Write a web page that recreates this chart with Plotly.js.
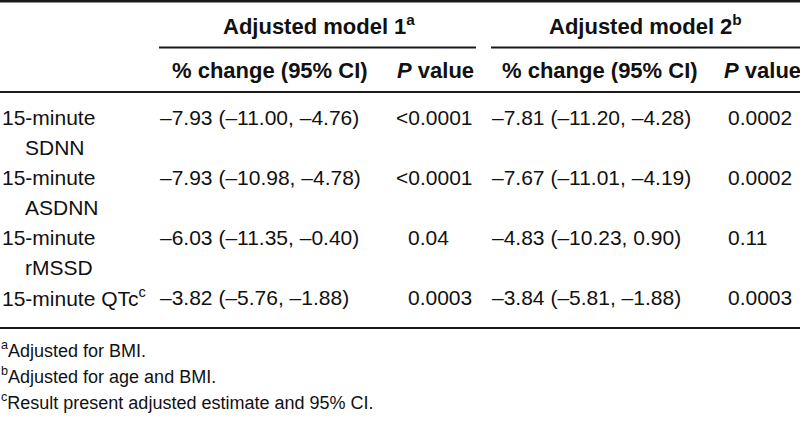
<!DOCTYPE html>
<html>
<head>
<meta charset="utf-8">
<script src="https://cdn.plot.ly/plotly-3.0.1.min.js"></script>
<style>
  html, body { margin: 0; padding: 0; background: #ffffff; }
  #chart { width: 800px; height: 424px; }
</style>
</head>
<body>
<div id="chart"></div>
<script>
// ---- Table content ----
const modelHeaders = ["Adjusted model 1<sup>a</sup>", "Adjusted model 2<sup>b</sup>"];
const columnHeaders = ["% change (95% CI)", "<i>P</i> value", "% change (95% CI)", "<i>P</i> value"];
const rowLabelLine1 = ["15-minute", "15-minute", "15-minute", "15-minute QTc<sup>c</sup>"];
const rowLabelLine2 = ["SDNN", "ASDNN", "rMSSD", ""];
const model1Change = ["–7.93 (–11.00, –4.76)", "–7.93 (–10.98, –4.78)", "–6.03 (–11.35, –0.40)", "–3.82 (–5.76, –1.88)"];
const model1P = ["<0.0001", "<0.0001", "0.04", "0.0003"];
const model2Change = ["–7.81 (–11.20, –4.28)", "–7.67 (–11.01, –4.19)", "–4.83 (–10.23, 0.90)", "–3.84 (–5.81, –1.88)"];
const model2P = ["0.0002", "0.0002", "0.11", "0.0003"];
const footnotes = [
  "<sup>a</sup>Adjusted for BMI.",
  "<sup>b</sup>Adjusted for age and BMI.",
  "<sup>c</sup>Result present adjusted estimate and 95% CI."
];

// ---- Layout constants (positions / styles) ----
const FONT = "'Liberation Sans', Arial, 'DejaVu Sans', sans-serif";
const TXT = "#111111";
const LINE = "#1a1a1a";
const bodySize = 21, headSize = 22, footSize = 18;
const rowTop = 117, rowPitch = 60, linePitch = 30;
const modelY = 25, colHeadY = 70;
const modelCenters = [319, 645];
const colHeadCenters = [270, 435, 600, 762];
const dataX = [160, 408, 492, 728];
const labelX = 2, labelIndentX = 25;
const footY = [349, 375, 401];
const esc = s => s.replace(/</g, "&lt;");

const ann = [];
function add(text, x, y, opts) {
  ann.push(Object.assign({
    text: text, x: x, y: y, xref: "x", yref: "y",
    showarrow: false, xanchor: "left", yanchor: "middle",
    borderpad: 0, borderwidth: 0,
    font: { family: FONT, size: bodySize, color: TXT }
  }, opts || {}));
}

modelHeaders.forEach((t, i) => add("<b>" + t + "</b>", modelCenters[i], modelY,
  { xanchor: "center", font: { family: FONT, size: headSize, color: TXT } }));
columnHeaders.forEach((t, i) => add("<b>" + t + "</b>", colHeadCenters[i], colHeadY,
  { xanchor: "center", font: { family: FONT, size: headSize, color: TXT } }));

rowLabelLine1.forEach((t, i) => {
  const y = rowTop + rowPitch * i;
  add(t, labelX, y);
  if (rowLabelLine2[i]) add(rowLabelLine2[i], labelIndentX, y + linePitch);
});
const cols = [model1Change, model1P, model2Change, model2P];
cols.forEach((col, c) => {
  col.forEach((v, i) => {
    const y = rowTop + rowPitch * i;
    const hang = v.startsWith("<") ? -12 : 0;
    add(esc(v), dataX[c], y, { xshift: hang });
  });
});
footnotes.forEach((t, i) => add(t, 1, footY[i], { font: { family: FONT, size: footSize, color: TXT } }));

const shapes = [
  { y: 1.2, x0: 0, x1: 800, w: 2.4 },
  { y: 47.5, x0: 159, x1: 476, w: 2 },
  { y: 47.5, x0: 491, x1: 800, w: 2 },
  { y: 92, x0: 0, x1: 800, w: 2 },
  { y: 328, x0: 0, x1: 800, w: 2 }
].map(s => ({
  type: "line", xref: "x", yref: "y", x0: s.x0, x1: s.x1, y0: s.y, y1: s.y,
  line: { color: LINE, width: s.w }
}));

const layout = {
  width: 800, height: 424,
  margin: { l: 0, r: 0, t: 0, b: 0, pad: 0 },
  paper_bgcolor: "#ffffff", plot_bgcolor: "#ffffff",
  xaxis: { range: [0, 800], visible: false, fixedrange: true },
  yaxis: { range: [424, 0], visible: false, fixedrange: true },
  showlegend: false,
  annotations: ann,
  shapes: shapes
};

Plotly.newPlot("chart", [{ x: [], y: [], type: "scatter", mode: "markers", hoverinfo: "skip" }], layout,
  { staticPlot: true, displayModeBar: false });
</script>
</body>
</html>
